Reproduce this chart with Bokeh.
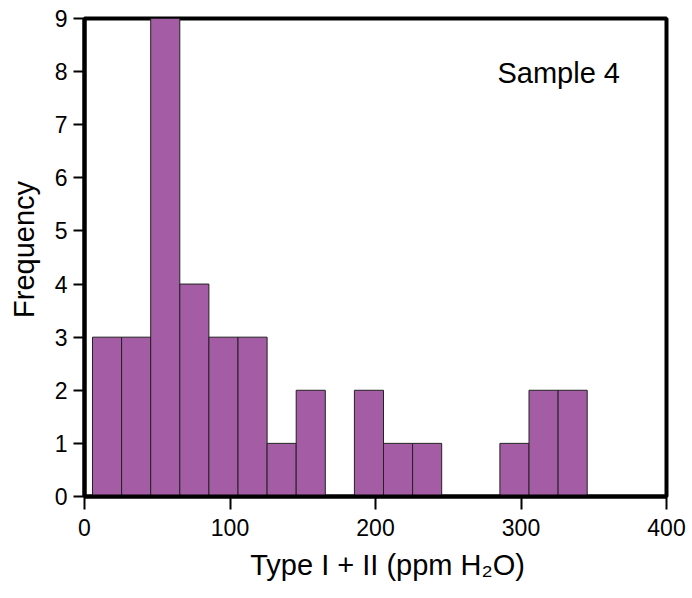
from bokeh.plotting import figure
from bokeh.models import Range1d, FixedTicker, Label, ColumnDataSource
from bokeh.embed import file_html
from bokeh.resources import INLINE

# Histogram data (bin left edges, ppm H2O) and counts
bin_left = [5.5, 25.5, 45.5, 65.5, 85.5, 105.5, 125.5, 145.5, 165.5,
            185.5, 205.5, 225.5, 245.5, 265.5, 285.5, 305.5, 325.5]
counts = [3, 3, 9, 4, 3, 3, 1, 2, 0, 2, 1, 1, 0, 0, 1, 2, 2]
bin_width = 20
x_ticks = [0, 100, 200, 300, 400]
y_ticks = [0, 1, 2, 3, 4, 5, 6, 7, 8, 9]
x_title = "Type I + II (ppm H\u2082O)"
y_title = "Frequency"
sample_label = "Sample 4"

FONT = "Liberation Sans"
BAR = "#A45CA4"
NB = "\u00a0"

lefts = [l for l, c in zip(bin_left, counts) if c > 0]
rights = [l + bin_width for l, c in zip(bin_left, counts) if c > 0]
tops = [c for c in counts if c > 0]
src = ColumnDataSource(dict(left=lefts, right=rights, top=tops, bottom=[0] * len(tops)))

p = figure(width=692, height=598, output_backend="svg", toolbar_location=None,
           x_range=Range1d(0, 400), y_range=Range1d(0, 9),
           min_border_left=84, min_border_right=26, min_border_top=18, min_border_bottom=102)

p.quad(left="left", right="right", top="top", bottom="bottom", source=src,
       fill_color=BAR, line_color="#222222", line_width=1)

p.grid.visible = False
p.outline_line_color = "black"
p.outline_line_width = 4
p.background_fill_color = "white"
p.border_fill_color = "white"

for ax in (p.xaxis[0], p.yaxis[0]):
    ax.axis_line_width = 4
    ax.axis_line_color = "black"
    ax.major_tick_line_width = 2
    ax.major_tick_line_color = "black"
    ax.major_tick_in = 0
    ax.minor_tick_line_color = None
    ax.major_label_text_font = FONT
    ax.major_label_text_font_size = "23px"
    ax.major_label_text_color = "black"
    ax.axis_label_text_font = FONT
    ax.axis_label_text_font_size = "29px"
    ax.axis_label_text_font_style = "normal"
    ax.axis_label_text_color = "black"

p.xaxis[0].ticker = FixedTicker(ticks=x_ticks)
p.yaxis[0].ticker = FixedTicker(ticks=y_ticks)
p.xaxis[0].major_tick_out = 13
p.yaxis[0].major_tick_out = 11
p.xaxis[0].major_label_standoff = 9
p.yaxis[0].major_label_standoff = 6

p.xaxis[0].axis_label = NB * 3 + x_title
p.xaxis[0].axis_label_standoff = 10
p.yaxis[0].axis_label = NB * 2 + y_title
p.yaxis[0].axis_label_standoff = 12

p.add_layout(Label(x=283.8, y=7.98, text=sample_label,
                   text_font=FONT, text_color="black", text_baseline="alphabetic",
                   text_font_size="29px", text_align="left"))

open("out.html", "w").write(file_html(p, INLINE))
